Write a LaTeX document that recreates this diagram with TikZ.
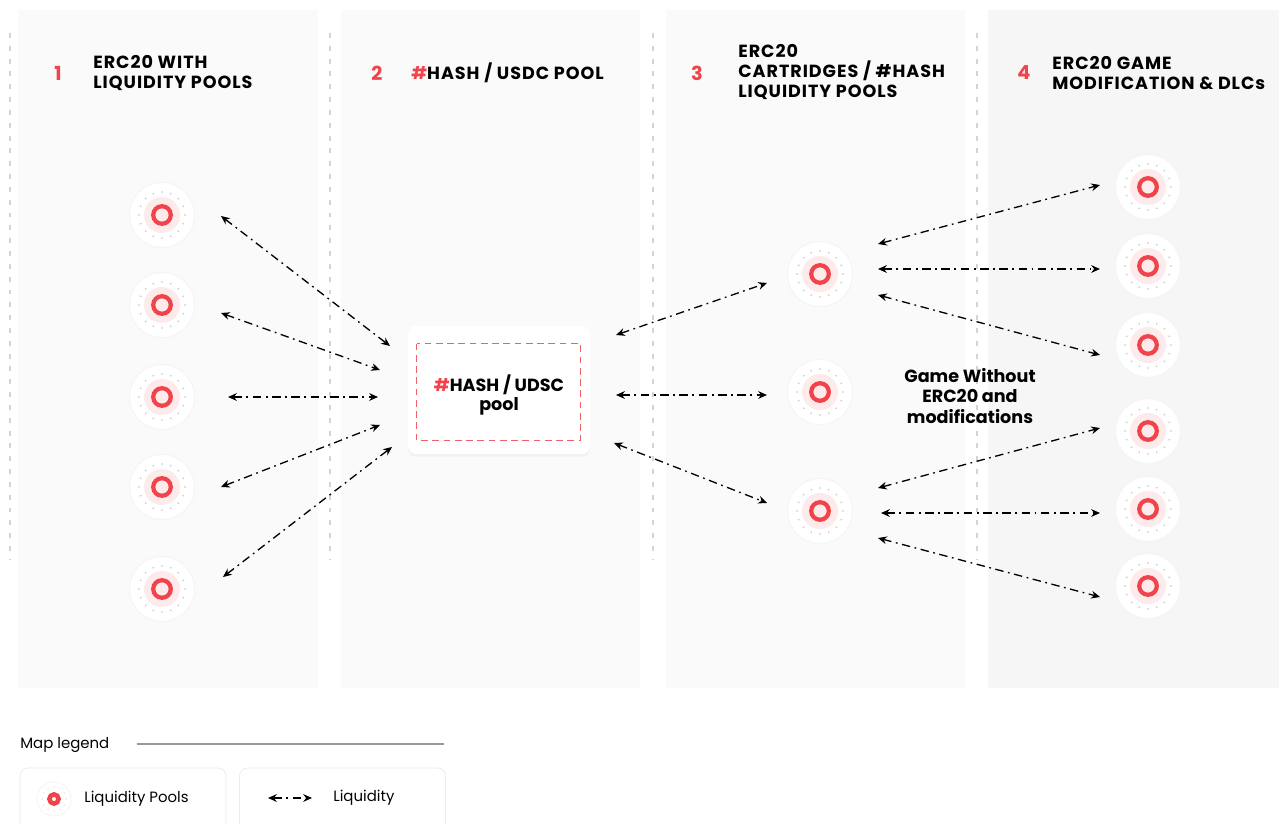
\documentclass[tikz,border=0pt]{standalone}
\usepackage{fontspec}
\setmainfont{Poppins}
\newfontfamily\headfont{Poppins}[LetterSpace=5.5]
\usetikzlibrary{positioning}
\usetikzlibrary{arrows.meta,shadows}
\usetikzlibrary{calc}

\definecolor{hashred}{HTML}{F0434B}
\definecolor{poolpink}{HTML}{FDEBEB}
\definecolor{panelbg}{HTML}{FAFAFA}
\definecolor{panelbgdark}{HTML}{F6F6F6}
\definecolor{sepgray}{HTML}{D4D4D4}
\definecolor{dotgray}{HTML}{C4C4C4}

\tikzset{
  pool/.style={circle, inner sep=0pt, minimum size=1.3cm, fill=white, draw=black!4, line width=0.6pt,
    path picture={
      \fill[poolpink] (path picture bounding box.center) circle (18);
      \foreach \a in {0,22.5,...,337.5}
        \fill[dotgray] ([shift={(\a:23)}]path picture bounding box.center) circle (0.9);
      \draw[hashred, line width=2.4pt] (path picture bounding box.center) circle (8.8);
    }},
  poolsmall/.style={circle, inner sep=0pt, minimum size=0.68cm, fill=white, draw=black!4, line width=0.5pt,
    path picture={
      \foreach \a in {0,30,...,330}
        \fill[dotgray] ([shift={(\a:12)}]path picture bounding box.center) circle (0.6);
      \draw[hashred, line width=2.6pt] (path picture bounding box.center) circle (4.6);
    }},
  link/.style={arrows={Stealth[length=5pt,width=4.4pt]-Stealth[length=5pt,width=4.4pt]},
    line width=0.75pt, dash pattern=on 4.8pt off 2.6pt on 1pt off 2.6pt},
  numlabel/.style={text=hashred, inner sep=0pt, font=\fontsize{11}{13}\selectfont\bfseries},
  headlabel/.style={anchor=west, align=left, inner sep=0pt, font=\headfont\fontsize{10}{11.3}\selectfont\bfseries},
  hubcard/.style={rectangle, rounded corners=4.5pt, fill=white, minimum width=3.64cm, minimum height=2.56cm,
    drop shadow={opacity=0.07, shadow xshift=0pt, shadow yshift=-1.5pt}},
  hubdash/.style={draw=hashred!85, line width=0.8pt, dash pattern=on 3.8pt off 2.6pt},
  legendbox/.style={rectangle, rounded corners=4.5pt, fill=white, draw=black!8, minimum width=4.12cm, minimum height=1.64cm},
  legendtext/.style={anchor=west, inner sep=0pt, font=\fontsize{8.5}{10}\selectfont}
}

\begin{document}
\begin{tikzpicture}[x=0.02cm, y=-0.02cm]
\useasboundingbox (0,0) rectangle (1279,824);
\fill[white] (0,0) rectangle (1279,824);

% columns
\fill[panelbg] (18,10) rectangle (318,688);
\fill[panelbg] (341,10) rectangle (640,688);
\fill[panelbg] (666,10) rectangle (965,688);
\fill[panelbgdark] (988,10) rectangle (1279,688);
\draw[sepgray, line width=0.6pt, dash pattern=on 2.8pt off 4.5pt] (10,33) -- (10,560);
\draw[sepgray, line width=0.6pt, dash pattern=on 2.8pt off 4.5pt] (330,33) -- (330,560);
\draw[sepgray, line width=0.6pt, dash pattern=on 2.8pt off 4.5pt] (653,33) -- (653,560);
\draw[sepgray, line width=0.6pt, dash pattern=on 2.8pt off 4.5pt] (977,33) -- (977,560);

% headings
\node[numlabel] (n1) at (58,73) {1};
\node[headlabel] (h1) at (93,73) {ERC20 WITH\\LIQUIDITY POOLS};
\node[numlabel] (n2) at (377,73) {2};
\node[headlabel] (h2) at (411,73) {\textcolor{hashred}{\#}HASH / USDC POOL};
\node[numlabel] (n3) at (697,73) {3};
\node[headlabel] (h3) at (738,72) {ERC20\\CARTRIDGES / \#HASH\\LIQUIDITY POOLS};
\node[numlabel] (n4) at (1024,73) {4};
\node[headlabel] (h4) at (1052,73) {ERC20 GAME\\MODIFICATION \& DLCs};

% pools
\node[pool] (p1) at (162,215) {};
\node[pool] (p2) at (162,305) {};
\node[pool] (p3) at (162,397) {};
\node[pool] (p4) at (162,487) {};
\node[pool] (p5) at (162,589) {};

\node[pool] (q1) at (820,274) {};
\node[pool] (q2) at (820,392) {};
\node[pool] (q3) at (820,511) {};

\node[pool] (r1) at (1148,187) {};
\node[pool] (r2) at (1148,266) {};
\node[pool] (r3) at (1148,345) {};
\node[pool] (r4) at (1148,431) {};
\node[pool] (r5) at (1148,509) {};
\node[pool] (r6) at (1148,586) {};

% hub
\node[hubcard] (hub) at (499,390) {};
\draw[hubdash] ([shift={(9,18)}]hub.north west) rectangle ([shift={(-10,-14)}]hub.south east);
\node[align=center, inner sep=0pt, font=\fontsize{10}{11.3}\selectfont\bfseries] (hubtext) at (499,395)
  {\textcolor{hashred}{\#}HASH / UDSC\\pool};

\node[align=center, inner sep=0pt, font=\fontsize{10}{11.9}\selectfont\bfseries] (game) at (970,396)
  {Game Without\\ERC20 and\\modifications};

% liquidity
\draw[link] ([shift={(59,1)}]p1.center) -- ([shift={(-109,-44)}]hub.center);
\draw[link] ([shift={(59,8)}]p2.center) -- ([shift={(-119,-20)}]hub.center);
\draw[link] ([shift={(66,0)}]p3.center) -- ([shift={(-121,7)}]hub.center);
\draw[link] ([shift={(59,0)}]p4.center) -- ([shift={(-119,35)}]hub.center);
\draw[link] ([shift={(61,-12)}]p5.center) -- ([shift={(-107,57)}]hub.center);

\draw[link] ([shift={(117,-55)}]hub.center) -- ([shift={(-53,9)}]q1.center);
\draw[link] ([shift={(117,5)}]hub.center) -- ([shift={(-53,3)}]q2.center);
\draw[link] ([shift={(115,53)}]hub.center) -- ([shift={(-53,-8)}]q3.center);

\draw[link] ([shift={(58,-30)}]q1.center) -- ([shift={(-48,-2)}]r1.center);
\draw[link] ([shift={(58,-5)}]q1.center) -- ([shift={(-48,3)}]r2.center);
\draw[link] ([shift={(58,21)}]q1.center) -- ([shift={(-48,10)}]r3.center);
\draw[link] ([shift={(58,-23)}]q3.center) -- ([shift={(-48,-3)}]r4.center);
\draw[link] ([shift={(61,2)}]q3.center) -- ([shift={(-48,4)}]r5.center);
\draw[link] ([shift={(58,27)}]q3.center) -- ([shift={(-48,11)}]r6.center);

% legend
\node[legendtext] (maplegend) at (20,745) {Map legend};
\coordinate (ruleend) at (444,744);
\draw[black!40, line width=0.6pt] ([shift={(27,-1)}]maplegend.east) -- (ruleend);
\node[legendbox] (box1) at (123,809) {};
\node[legendbox] (box2) at (342.5,809) {};
\node[poolsmall] (lp) at (54,799) {};
\node[legendtext] (lpt) at (84,799) {Liquidity Pools};
\coordinate (la) at (268,798);
\coordinate (lb) at (312,798);
\draw[link] (la) -- (lb);
\node[legendtext] (llt) at (333,798) {Liquidity};
\end{tikzpicture}
\end{document}
